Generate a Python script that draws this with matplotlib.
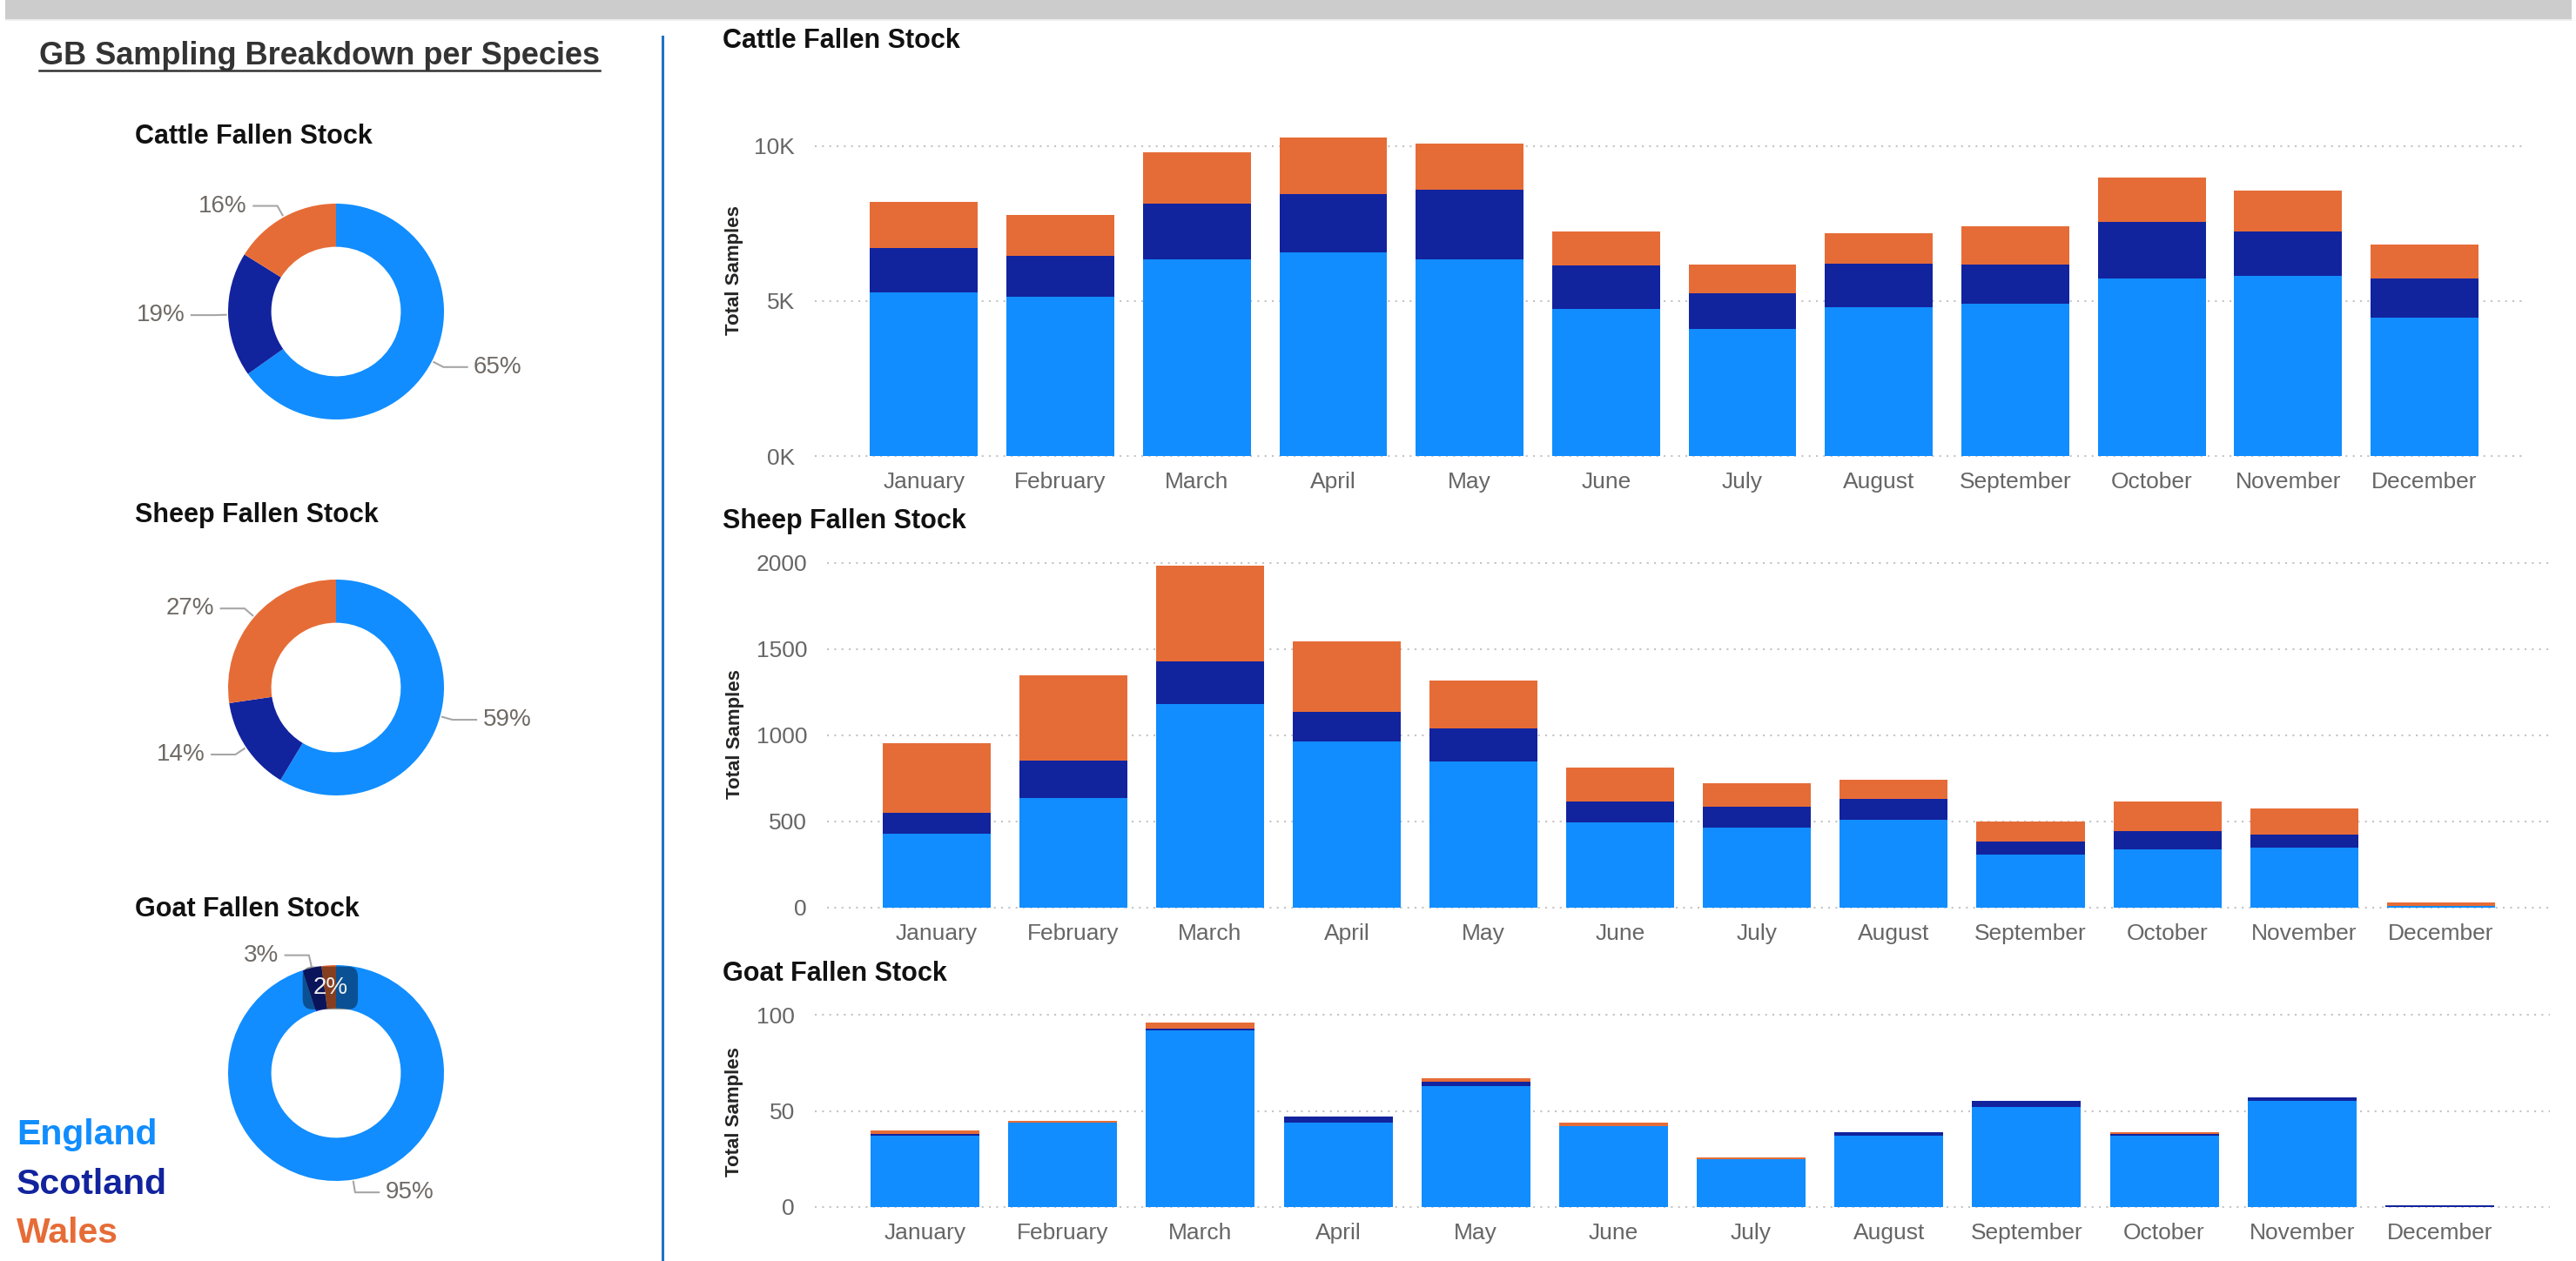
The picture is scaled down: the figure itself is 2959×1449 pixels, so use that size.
import numpy as np
import matplotlib.pyplot as plt
from matplotlib.lines import Line2D
from matplotlib.patches import Rectangle

months = ['January', 'February', 'March', 'April', 'May', 'June', 'July',
          'August', 'September', 'October', 'November', 'December']
regions = ['England', 'Scotland', 'Wales']
colors = ['#118DFF', '#12239E', '#E66C37']

cattle_england = [5290, 5140, 6340, 6560, 6340, 4740, 4090, 4800, 4910, 5740, 5800, 4470]
cattle_scotland = [1420, 1310, 1800, 1900, 2250, 1400, 1150, 1400, 1270, 1800, 1450, 1250]
cattle_wales = [1480, 1330, 1660, 1820, 1490, 1110, 940, 990, 1220, 1440, 1320, 1090]

sheep_england = [430, 635, 1180, 965, 850, 497, 466, 510, 308, 337, 347, 8]
sheep_scotland = [119, 219, 249, 169, 189, 117, 120, 120, 78, 109, 79, 2]
sheep_wales = [406, 496, 556, 409, 278, 199, 138, 111, 112, 170, 150, 20]

goat_england = [37, 44, 92, 44, 63, 42, 25, 37, 52, 37, 55, 0]
goat_scotland = [1, 0, 1, 3, 2, 0, 0, 2, 3, 1, 2, 1]
goat_wales = [2, 1, 3, 0, 2, 2, 1, 0, 0, 1, 0, 0]

W, H = 2959, 1449
plt.rcParams['font.family'] = ['Liberation Sans', 'DejaVu Sans']
fig = plt.figure(figsize=(W / 100, H / 100), dpi=100)


def box(x0, y0, x1, y1):
    # pixel box (top-left origin) -> figure fraction rect
    return [x0 / W, 1 - y1 / H, (x1 - x0) / W, (y1 - y0) / H]


def fy(y):
    return 1 - y / H


# header band and divider
fig.add_artist(Rectangle((6 / W, fy(24)), (2955 - 6) / W, 2 / H,
                         transform=fig.transFigure, color='#eeeeee', lw=0))
fig.add_artist(Rectangle((6 / W, fy(22)), (2954 - 6) / W, 22 / H,
                         transform=fig.transFigure, color='#cccccc', lw=0))
fig.add_artist(Line2D([761 / W, 761 / W], [fy(42), 0], transform=fig.transFigure,
                      color='#1f72c4', lw=2.2))

# left title with underline
t = fig.text(45 / W, fy(74), 'GB Sampling Breakdown per Species', fontsize=26,
             fontweight='bold', color='#333333', va='baseline')
fig.canvas.draw()
bb = t.get_window_extent()
fig.add_artist(Line2D([bb.x0 / W, bb.x1 / W], [fy(81), fy(81)],
                      transform=fig.transFigure, color='#333333', lw=1.8))


def bar_panel(title, title_base, data, rect, xmax, ymax, ticks, fmt, ylab_y):
    ax = fig.add_axes(box(*rect))
    x = np.arange(len(months))
    bottom = np.zeros(len(months))
    for vals, c in zip(data, colors):
        ax.bar(x, vals, width=0.79, bottom=bottom, color=c, zorder=2)
        bottom += np.array(vals)
    for tk in ticks:
        ax.axhline(tk, color='#c4c4c4', lw=1.5, ls=(0, (1, 3)), zorder=1, clip_on=False)
    ax.set_xlim(-0.8, xmax)
    ax.set_ylim(0, ymax)
    ax.set_xticks(x)
    ax.set_xticklabels(months)
    ax.set_yticks(ticks)
    ax.set_yticklabels([fmt(tk) for tk in ticks])
    for s in ax.spines.values():
        s.set_visible(False)
    ax.tick_params(length=0, labelsize=19, labelcolor='#666666')
    ax.tick_params(axis='x', pad=13)
    ax.tick_params(axis='y', pad=16.5)
    ax.set_ylabel('Total Samples', fontsize=16, fontweight='bold', color='#252423', va='center')
    width = rect[2] - rect[0]
    ax.yaxis.set_label_coords((844 - rect[0]) / width, ylab_y)
    fig.text(830 / W, fy(title_base), title, fontsize=22, fontweight='bold',
             color='#111111', va='baseline')
    return ax


bar_panel('Cattle Fallen Stock', 55, [cattle_england, cattle_scotland, cattle_wales],
          (936, 150, 2902, 524), 11.746, 10500, [0, 5000, 10000],
          lambda v: f'{v / 1000:.0f}K', 0.57)
bar_panel('Sheep Fallen Stock', 607, [sheep_england, sheep_scotland, sheep_wales],
          (950, 627, 2929, 1043), 11.797, 2100, [0, 500, 1000, 1500, 2000],
          lambda v: f'{v:.0f}', 0.48)
bar_panel('Goat Fallen Stock', 1127, [goat_england, goat_scotland, goat_wales],
          (936, 1155, 2929, 1387), 11.80, 105, [0, 50, 100],
          lambda v: f'{v:.0f}', 0.47)


def donut(title, title_base, data, cx, cy, inside=()):
    R = 124
    ax = fig.add_axes(box(cx - 370, cy - 180, cx + 370, cy + 180))
    totals = np.array([np.sum(d) for d in data], dtype=float)
    ax.pie(totals, colors=colors, startangle=90, counterclock=False, radius=1,
           wedgeprops=dict(width=0.4, edgecolor='none'))
    ax.set_xlim(-370 / R, 370 / R)
    ax.set_ylim(-180 / R, 180 / R)
    ax.axis('off')
    shares = totals / totals.sum()
    cum = 0.0
    for i, s in enumerate(shares):
        mid = np.radians((cum + s / 2) * 360)
        cum += s
        lab = f'{round(s * 100)}%'
        u = np.array([np.sin(mid), np.cos(mid)])
        if i in inside:
            p = 0.79 * u
            ax.text(p[0], p[1], lab, ha='center', va='center', fontsize=20, color='#eeeeee',
                    bbox=dict(boxstyle='round,pad=0.42', fc='black', alpha=0.42, ec='none'))
            continue
        side = 1 if u[0] >= 0 else -1
        p0, p1 = 1.02 * u, 1.12 * u
        p2 = p1 + np.array([0.22 * side, 0])
        ax.plot([p0[0], p1[0], p2[0]], [p0[1], p1[1], p2[1]], color='#a6a6a6', lw=1.5,
                clip_on=False)
        ax.text(p2[0] + 0.06 * side, p2[1], lab, ha='left' if side > 0 else 'right',
                va='center', fontsize=20, color='#6f6a65')
    fig.text(155 / W, fy(title_base), title, fontsize=22, fontweight='bold',
             color='#111111', va='baseline')


donut('Cattle Fallen Stock', 165, [cattle_england, cattle_scotland, cattle_wales], 386, 358)
donut('Sheep Fallen Stock', 600, [sheep_england, sheep_scotland, sheep_wales], 386, 790)
donut('Goat Fallen Stock', 1053, [goat_england, goat_scotland, goat_wales], 386, 1233,
      inside=(2,))

# colour key
for name, c, base in zip(regions, colors, [1315, 1372, 1428]):
    fig.text(19 / W, fy(base), name, color=c, fontsize=29.5, fontweight='bold', va='baseline')

fig.savefig('out.png', dpi=100)
